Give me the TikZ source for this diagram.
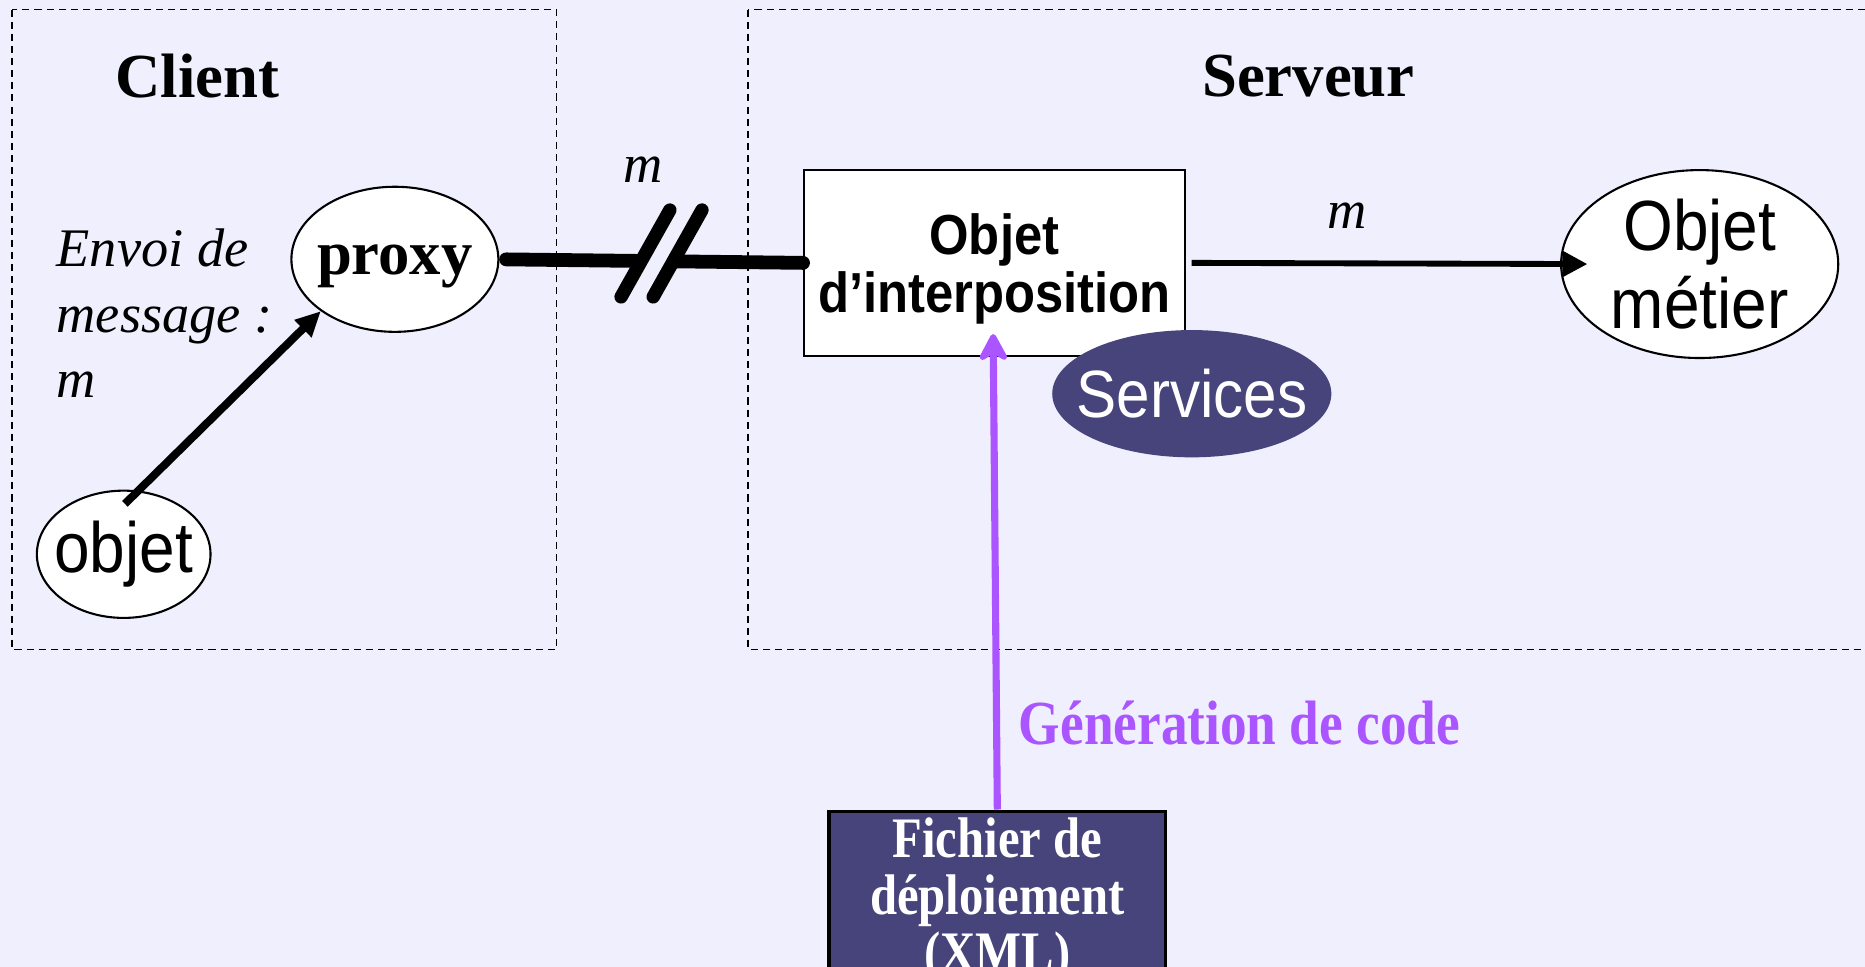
\documentclass[tikz,border=0pt]{standalone}
\usepackage{fontspec}
\setmainfont{Liberation Serif}
\newfontfamily\narrowsans[FakeStretch=0.9]{Liberation Sans}
\newfontfamily\condserif[FakeStretch=0.85]{Liberation Serif}
\usepackage{tikz}
\usetikzlibrary{calc,arrows.meta,positioning,shapes.geometric}
\definecolor{mw-bg}{HTML}{EFEFFD}
\definecolor{mw-dark}{HTML}{46447A}
\definecolor{mw-purple}{HTML}{AA55FF}

\begin{document}
\begin{tikzpicture}[x=0.1mm, y=-0.1mm, >=Stealth,
    zone/.style={draw, line width=0.4pt, dash pattern=on 1.7pt off 1.2pt},
    blob/.style={draw, ellipse, fill=white, line width=0.5pt, inner ysep=0pt},
    title/.style={font=\fontsize{15}{18}\selectfont\bfseries},
    msg/.style={font=\fontsize{13}{15.6}\selectfont\itshape}]
    \useasboundingbox (0,0) rectangle (1568,813);
    \clip (0,0) rectangle (1568,813);
    \fill[mw-bg] (0,0) rectangle (1568,813);

    \draw[zone] (10,8) rectangle (468,546);
    \draw[zone] (629,8) rectangle (1600,546);
    \node[title] (client) at (166,64) {Client};
    \node[title] (serveur) at (1100,64) {Serveur};

    \node[blob, inner xsep=-1.5pt, text depth=0pt, minimum width=17.4mm, minimum height=12.2mm,
        font=\fontsize{15}{18}\selectfont\bfseries] (proxy) at (332,218) {proxy};
    \node[blob, inner xsep=-2.2pt, minimum width=14.6mm, minimum height=10.7mm,
        font=\narrowsans\fontsize{17}{18}\selectfont] (objet) at (104,466) {objet};
    \node[msg, align=left, anchor=north west, inner sep=0pt] (envoi) at (47,192) {Envoi de\\message :\\m};

    \node[draw, fill=white, line width=0.5pt, minimum width=31.8mm, minimum height=15.6mm, align=center, text depth=0pt,
        font=\narrowsans\fontsize{13.5}{14}\selectfont\bfseries] (interp) at (836,221) {Objet\\d’interposition};
    \node[ellipse, fill=mw-dark, text=white, minimum width=23.4mm, minimum height=10.7mm, inner xsep=-4pt, inner ysep=0pt,
        font=\narrowsans\fontsize{16}{18}\selectfont] (services) at (1002,331) {Services};
    \node[blob, inner sep=0pt, minimum width=23.3mm, minimum height=15.8mm, align=center,
        font=\narrowsans\fontsize{17}{18.5}\selectfont] (metier) at (1429,222) {Objet\\métier};

    \node[draw, fill=mw-dark, text=white, line width=0.8pt, minimum width=28.3mm, inner ysep=0pt, align=center,
        font=\condserif\fontsize{13.7}{13.7}\selectfont\bfseries] (fichier) at (838.5,754.6) {\rule{0pt}{11pt}Fichier de\\déploiement\\(XML)};
    \node[anchor=west, inner sep=0pt, text=mw-purple, font=\condserif\fontsize{15}{18}\selectfont\bfseries] (gen) at (856,608) {Génération de code};

    \node[msg] (m1) at (541,143) {m};
    \node[msg] (m2) at (1133,181) {m};

    \draw[-{Triangle[length=6pt,width=5.5pt]}, line width=1.9pt] ($(objet.north)+(1,12)$) -- (proxy.215);

    \draw[line width=3.3pt, line cap=round, shorten <=1.6pt] (proxy.east) -- (interp.west);
    \coordinate (cut) at ($(proxy.east)!0.53!(interp.west)$);
    \fill[mw-bg] ($(cut)+(-33,30)$) -- ($(cut)+(8,-43)$) -- ($(cut)+(35,-45)$) -- ($(cut)+(-6,30)$) -- cycle;
    \foreach \dx in {0,27}
        \draw[line width=3.2pt, line cap=round] ($(cut)+(-33+\dx,30)$) -- ($(cut)+(8+\dx,-43)$);

    \draw[-{Triangle[length=6pt,width=6pt]}, line width=1.4pt] ($(interp.east)+(5,0)$) -- ($(metier.west)+(23,0)$);

    \draw[mw-purple, line width=1.7pt, -{Stealth[length=8pt,width=8.5pt,inset=2.5pt,round]}] (fichier.north) -- ($(interp.south)+(-1,-19)$);
\end{tikzpicture}
\end{document}
